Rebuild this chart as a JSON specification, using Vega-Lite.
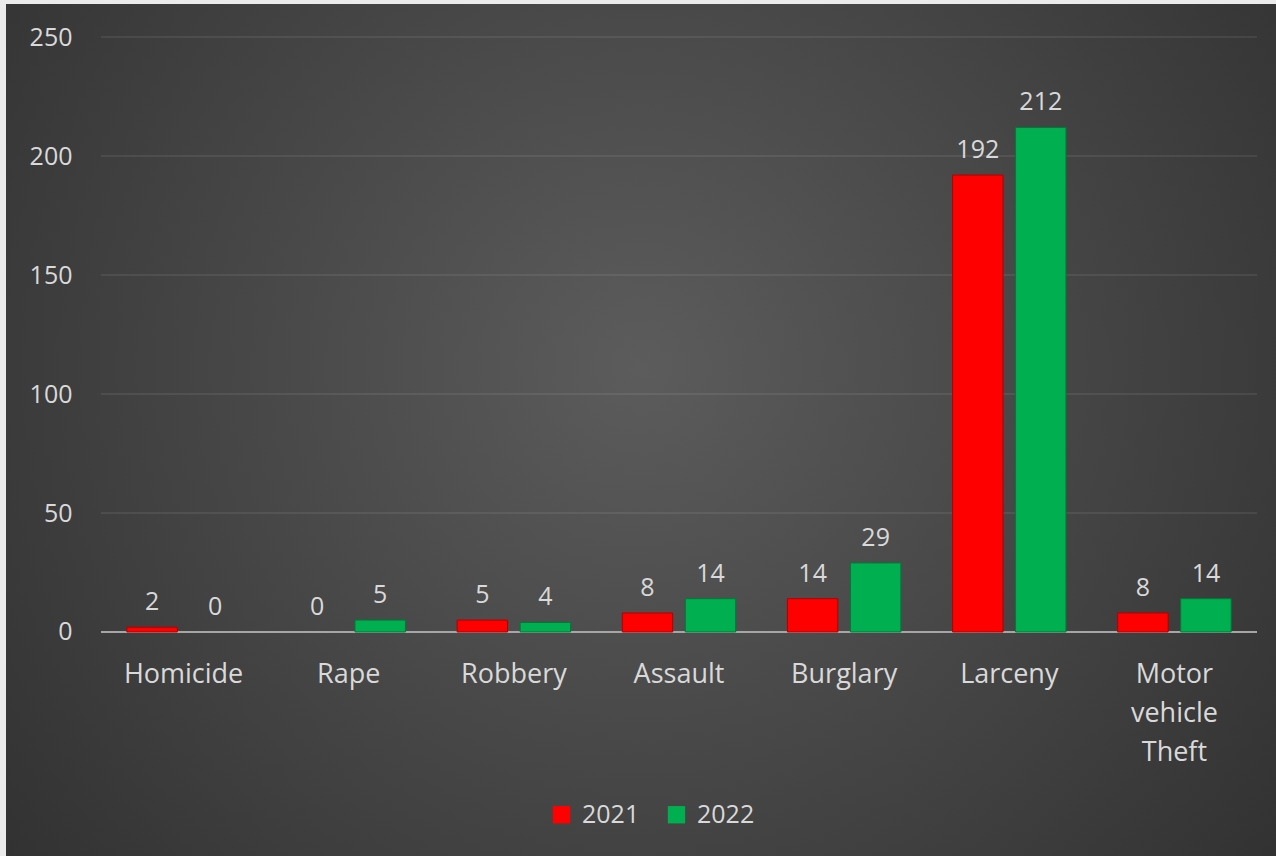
{
  "$schema": "https://vega.github.io/schema/vega-lite/v6.json",
  "width": 1270,
  "height": 852,
  "autosize": {"type": "none"},
  "padding": {"left": 6, "top": 4, "right": 0, "bottom": 0},
  "background": "#ebebeb",
  "config": {
    "font": "Open Sans",
    "view": {
      "stroke": null,
      "fill": {
        "gradient": "radial",
        "x1": 0.5, "y1": 0.45, "r1": 0,
        "x2": 0.5, "y2": 0.45, "r2": 0.75,
        "stops": [
          {"offset": 0, "color": "#5c5c5c"},
          {"offset": 1, "color": "#2a2a2a"}
        ]
      }
    }
  },
  "datasets": {
    "crimes": [
      {"crime": "Homicide", "year": "2021", "count": 2},
      {"crime": "Homicide", "year": "2022", "count": 0},
      {"crime": "Rape", "year": "2021", "count": 0},
      {"crime": "Rape", "year": "2022", "count": 5},
      {"crime": "Robbery", "year": "2021", "count": 5},
      {"crime": "Robbery", "year": "2022", "count": 4},
      {"crime": "Assault", "year": "2021", "count": 8},
      {"crime": "Assault", "year": "2022", "count": 14},
      {"crime": "Burglary", "year": "2021", "count": 14},
      {"crime": "Burglary", "year": "2022", "count": 29},
      {"crime": "Larceny", "year": "2021", "count": 192},
      {"crime": "Larceny", "year": "2022", "count": 212},
      {"crime": "Motor vehicle Theft", "year": "2021", "count": 8},
      {"crime": "Motor vehicle Theft", "year": "2022", "count": 14}
    ],
    "ticks": [{"v": 50}, {"v": 100}, {"v": 150}, {"v": 200}, {"v": 250}],
    "base": [{"v": 0}]
  },
  "layer": [
    {
      "data": {"name": "ticks"},
      "mark": {"type": "rule", "color": "#ffffff", "opacity": 0.1, "strokeWidth": 1.5},
      "encoding": {
        "y": {
          "field": "v", "type": "quantitative",
          "scale": {"domain": [-94.12, 263.87], "nice": false, "zero": false},
          "axis": {
            "values": [0, 50, 100, 150, 200, 250],
            "offset": -95,
            "labelPadding": 29,
            "domain": false,
            "ticks": false,
            "grid": false,
            "title": null,
            "labelColor": "#d9d9d9",
            "labelFontSize": 25,
            "labelFont": "Open Sans"
          }
        },
        "x": {"datum": 0, "type": "quantitative", "scale": {"domain": [0, 1], "range": [95, 1251]}, "axis": null},
        "x2": {"datum": 1}
      }
    },
    {
      "data": {"name": "base"},
      "mark": {"type": "rule", "color": "#a6a6a6", "strokeWidth": 2},
      "encoding": {
        "y": {"field": "v", "type": "quantitative", "scale": {"domain": [-94.12, 263.87], "nice": false, "zero": false}},
        "x": {"datum": 0, "type": "quantitative", "scale": {"domain": [0, 1], "range": [95, 1251]}, "axis": null},
        "x2": {"datum": 1}
      }
    },
    {
      "data": {"name": "crimes"},
      "layer": [
        {
          "mark": {"type": "bar", "strokeWidth": 1},
          "encoding": {
            "x": {
              "field": "crime", "type": "nominal", "sort": null,
              "scale": {"range": [95, 1251], "paddingInner": 0.237, "paddingOuter": 0.1185},
              "axis": {
                "orient": "bottom",
                "offset": -224,
                "labelPadding": 29,
                "labelAngle": 0,
                "domain": false,
                "ticks": false,
                "grid": false,
                "title": null,
                "labelColor": "#d9d9d9",
                "labelFontSize": 27,
                "labelLineHeight": 39,
                "labelExpr": "datum.label == 'Motor vehicle Theft' ? ['Motor', 'vehicle', 'Theft'] : datum.label"
              }
            },
            "xOffset": {"field": "year", "type": "nominal", "scale": {"paddingInner": 0.2, "paddingOuter": 0.1}},
            "y": {"field": "count", "type": "quantitative", "scale": {"domain": [-94.12, 263.87], "nice": false, "zero": false}},
            "y2": {"datum": 0},
            "color": {
              "field": "year", "type": "nominal",
              "scale": {"domain": ["2021", "2022"], "range": ["#ff0000", "#00b050"]},
              "legend": {
                "orient": "none",
                "legendX": 543,
                "legendY": 798,
                "direction": "horizontal",
                "title": null,
                "symbolType": "square",
                "symbolSize": 300,
                "symbolStrokeWidth": 0,
                "symbolOpacity": 1,
                "labelFontSize": 25,
                "labelColor": "#d9d9d9",
                "labelOffset": 8,
                "columnPadding": 24,
                "padding": 0
              }
            },
            "stroke": {
              "condition": {"test": "datum.count == 0", "value": "transparent"},
              "field": "year", "type": "nominal",
              "scale": {"domain": ["2021", "2022"], "range": ["#b00000", "#007a38"]},
              "legend": null
            }
          }
        },
        {
          "mark": {"type": "text", "baseline": "alphabetic", "dy": -17, "fontSize": 25, "color": "#d9d9d9"},
          "encoding": {
            "x": {"field": "crime", "type": "nominal", "sort": null},
            "xOffset": {"field": "year", "type": "nominal"},
            "y": {"field": "count", "type": "quantitative", "scale": {"domain": [-94.12, 263.87], "nice": false, "zero": false}},
            "text": {"field": "count", "type": "quantitative"}
          }
        }
      ]
    }
  ],
  "resolve": {"scale": {"x": "independent"}}
}
